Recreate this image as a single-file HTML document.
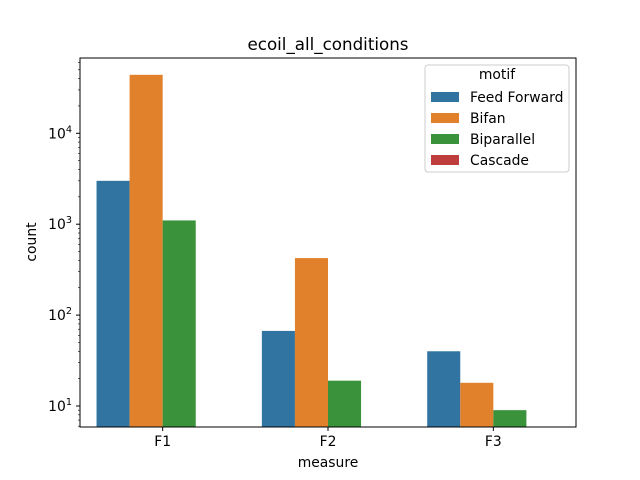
<!DOCTYPE html>
<html><head><meta charset="utf-8"><style>
body{margin:0;background:#fff;}
svg{display:block;font-family:"DejaVu Sans","Liberation Sans",sans-serif;}
</style></head><body>
<svg id="chart" width="640" height="480" viewBox="0 0 640 480" xmlns="http://www.w3.org/2000/svg">
<text x="328" y="50" text-anchor="middle" font-size="16.7">ecoil_all_conditions</text>
<g id="bars"></g>
<g id="axes"></g>
<text x="328" y="467" text-anchor="middle" font-size="13.9">measure</text>
<text transform="translate(36,242) rotate(-90)" text-anchor="middle" font-size="13.9">count</text>
<g id="legend"></g>
</svg>
<script>
const categories=["F1","F2","F3"];
const seriesNames=["Feed Forward","Bifan","Biparallel","Cascade"];
const feedForward=[3000,67,40];
const bifan=[44000,424,18];
const biparallel=[1100,19,9];
const cascade=[0,0,0];
const colors=["#3274a1","#e1812c","#3a923a","#c03d3e"];
const series=[feedForward,bifan,biparallel,cascade];
const L=80,R=576,T=58,B=427;
const y10=406,dec=90.9;
function y(v){return y10-(Math.log10(v)-1)*dec;}
const band=(R-L)/3;
function xc(i){return L+band*(i+0.5);}
const NS="http://www.w3.org/2000/svg";
function mk(t,a,p){const e=document.createElementNS(NS,t);for(const k in a)e.setAttribute(k,a[k]);p.appendChild(e);return e;}
const gb=document.getElementById('bars');
const bw=band*0.8/4;
series.forEach((s,si)=>{s.forEach((v,ci)=>{if(!(v>0))return;
const x0=xc(ci)-band*0.4+si*bw;const yt=y(v);
const r=mk('rect',{x:x0,y:yt,width:bw,height:B-yt,fill:colors[si]},gb);


});});
const ga=document.getElementById('axes');
const fr=mk('rect',{x:L,y:T,width:R-L,height:B-T,fill:'none',stroke:'#000','stroke-width':1},ga);


categories.forEach((c,i)=>{
mk('line',{x1:xc(i),x2:xc(i),y1:B,y2:B+4,stroke:'#000'},ga);
const t=mk('text',{x:xc(i),y:B+19,'text-anchor':'middle','font-size':13.9},ga);t.textContent=c;


});
for(let e=0;e<=5;e++){for(let m=1;m<10;m++){const v=m*Math.pow(10,e);const yy=y(v);if(yy<T||yy>B)continue;
mk('line',{x1:L,x2:L-(m==1?4:2),y1:yy,y2:yy,stroke:'#000','stroke-width':m==1?1:0.6},ga);
if(m==1){const t=mk('text',{x:L-8,y:yy+5,'text-anchor':'end','font-size':13.9},ga);
t.innerHTML='10<tspan dy="-6" font-size="9.7">'+e+'</tspan>';

}}}
const gl=document.getElementById('legend');
const lb=mk('rect',{x:425,y:65,width:144,height:107,rx:3,fill:'#fff','fill-opacity':0.8,stroke:'#ccc'},gl);


const lt=mk('text',{x:497,y:79,'text-anchor':'middle','font-size':13.9},gl);lt.textContent='motif';


seriesNames.forEach((n,i)=>{const yy=97+i*21;
const p=mk('rect',{x:431,y:yy-5,width:28,height:10,fill:colors[i]},gl);


const t=mk('text',{x:470,y:yy+5,'font-size':13.9},gl);t.textContent=n;


});
</script>
</body></html>
